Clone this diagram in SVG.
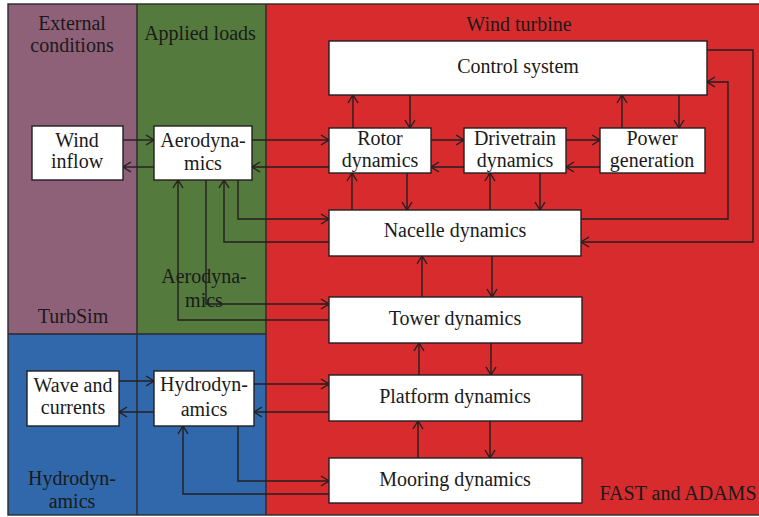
<svg xmlns="http://www.w3.org/2000/svg" width="759" height="517" viewBox="0 0 759 517">
<style>
.t{font-family:"Liberation Serif","Times New Roman",serif;font-size:20px;fill:#1a1a1a;text-anchor:middle}
.box{fill:#fff;stroke:#231f20;stroke-width:1.4}
.c{fill:none;stroke:#231f20;stroke-width:1.4}
.bd{fill:none;stroke:#2a2a2a;stroke-width:1.4}
</style>
<defs>
<marker id="a" viewBox="-1 -6 10 12" markerWidth="10" markerHeight="12" refX="8" refY="0" orient="auto" markerUnits="userSpaceOnUse">
<path d="M0,-5 L8,0 L0,5" fill="none" stroke="#231f20" stroke-width="1.4"/>
</marker>
</defs>
<g id="panels">
<rect x="8" y="4" width="129" height="330" fill="#8f6179"/>
<rect x="137" y="4" width="129" height="330" fill="#557a3d"/>
<rect x="266" y="4" width="496" height="511" fill="#d82b2e"/>
<rect x="8" y="334" width="258" height="181" fill="#3068ab"/>
<rect x="8" y="4" width="754" height="511" class="bd"/>
<line x1="137" y1="4" x2="137" y2="515" class="bd"/>
<line x1="266" y1="4" x2="266" y2="515" class="bd"/>
<line x1="8" y1="334" x2="266" y2="334" class="bd"/>
<text class="t" x="72" y="30">External</text>
<text class="t" x="72" y="52">conditions</text>
<text class="t" x="200" y="40">Applied loads</text>
<text class="t" x="519" y="31">Wind turbine</text>
<text class="t" x="73" y="323">TurbSim</text>
<text class="t" x="204" y="283">Aerodyna-</text>
<text class="t" x="204" y="307">mics</text>
<text class="t" x="72" y="485">Hydrodyn-</text>
<text class="t" x="72" y="508">amics</text>
<text class="t" x="678" y="500">FAST and ADAMS</text>
</g>
<g id="connectors">
<path class="c" marker-end="url(#a)" d="M123,140 H154"/>
<path class="c" marker-end="url(#a)" d="M154,167 H123"/>
<path class="c" marker-end="url(#a)" d="M252,140 H329"/>
<path class="c" marker-end="url(#a)" d="M329,167 H252"/>
<path class="c" marker-end="url(#a)" d="M329,320 H178 V180"/>
<path class="c" marker-end="url(#a)" d="M206,180 V304 H329"/>
<path class="c" marker-end="url(#a)" d="M329,242 H224 V180"/>
<path class="c" marker-end="url(#a)" d="M238,180 V219 H329"/>
<path class="c" marker-end="url(#a)" d="M353,128 V95"/>
<path class="c" marker-end="url(#a)" d="M410,95 V128"/>
<path class="c" marker-end="url(#a)" d="M431,140 H464"/>
<path class="c" marker-end="url(#a)" d="M464,167 H431"/>
<path class="c" marker-end="url(#a)" d="M566,140 H600"/>
<path class="c" marker-end="url(#a)" d="M600,167 H566"/>
<path class="c" marker-end="url(#a)" d="M622,128 V95"/>
<path class="c" marker-end="url(#a)" d="M679,95 V128"/>
<path class="c" marker-end="url(#a)" d="M352,210 V173"/>
<path class="c" marker-end="url(#a)" d="M407,173 V210"/>
<path class="c" marker-end="url(#a)" d="M490,210 V173"/>
<path class="c" marker-end="url(#a)" d="M540,173 V210"/>
<path class="c" marker-end="url(#a)" d="M707,50 H753 V242 H581"/>
<path class="c" marker-end="url(#a)" d="M581,219 H728 V82 H707"/>
<path class="c" marker-end="url(#a)" d="M422,297 V256"/>
<path class="c" marker-end="url(#a)" d="M492,256 V297"/>
<path class="c" marker-end="url(#a)" d="M419,375 V343"/>
<path class="c" marker-end="url(#a)" d="M491,343 V375"/>
<path class="c" marker-end="url(#a)" d="M418,458 V421"/>
<path class="c" marker-end="url(#a)" d="M490,421 V458"/>
<path class="c" marker-end="url(#a)" d="M119,381 H154"/>
<path class="c" marker-end="url(#a)" d="M154,412 H119"/>
<path class="c" marker-end="url(#a)" d="M254,384 H329"/>
<path class="c" marker-end="url(#a)" d="M329,412 H254"/>
<path class="c" marker-end="url(#a)" d="M238,426 V481 H329"/>
<path class="c" marker-end="url(#a)" d="M329,494 H183 V426"/>
</g>
<g id="wind-inflow"><rect class="box" x="32" y="126" width="91" height="54"/><text class="t" x="77" y="147">Wind</text><text class="t" x="77" y="168">inflow</text></g>
<g id="aerodynamics"><rect class="box" x="154" y="126" width="98" height="54"/><text class="t" x="203" y="147">Aerodyna-</text><text class="t" x="203" y="170">mics</text></g>
<g id="control-system"><rect class="box" x="329" y="41" width="378" height="54"/><text class="t" x="518" y="73">Control system</text></g>
<g id="rotor-dynamics"><rect class="box" x="329" y="128" width="102" height="45"/><text class="t" x="380" y="145">Rotor</text><text class="t" x="380" y="167">dynamics</text></g>
<g id="drivetrain-dynamics"><rect class="box" x="464" y="128" width="102" height="45"/><text class="t" x="515" y="145">Drivetrain</text><text class="t" x="515" y="167">dynamics</text></g>
<g id="power-generation"><rect class="box" x="600" y="128" width="105" height="45"/><text class="t" x="652" y="145">Power</text><text class="t" x="652" y="167">generation</text></g>
<g id="nacelle-dynamics"><rect class="box" x="329" y="210" width="252" height="46"/><text class="t" x="455" y="237">Nacelle dynamics</text></g>
<g id="tower-dynamics"><rect class="box" x="329" y="297" width="253" height="46"/><text class="t" x="455" y="325">Tower dynamics</text></g>
<g id="platform-dynamics"><rect class="box" x="329" y="375" width="253" height="46"/><text class="t" x="455" y="403">Platform dynamics</text></g>
<g id="mooring-dynamics"><rect class="box" x="329" y="458" width="253" height="45"/><text class="t" x="455" y="486">Mooring dynamics</text></g>
<g id="wave-and-currents"><rect class="box" x="27" y="371" width="92" height="55"/><text class="t" x="73" y="392">Wave and</text><text class="t" x="73" y="414">currents</text></g>
<g id="hydrodynamics"><rect class="box" x="154" y="371" width="100" height="55"/><text class="t" x="204" y="391">Hydrodyn-</text><text class="t" x="204" y="416">amics</text></g>
</svg>
